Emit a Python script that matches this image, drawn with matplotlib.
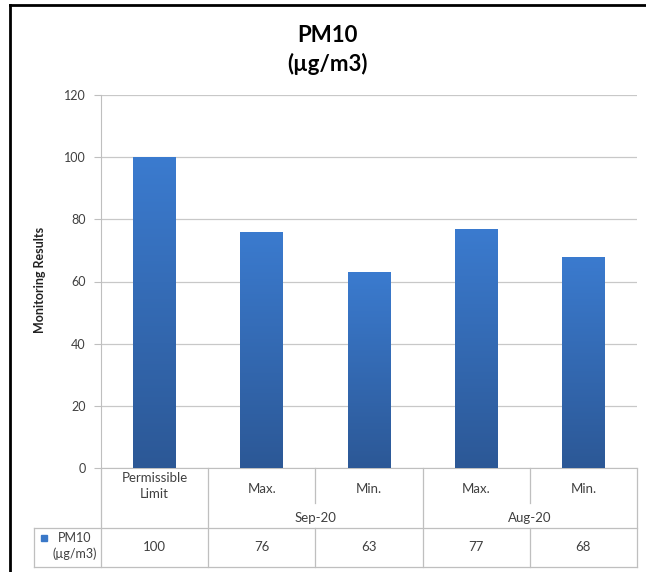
import numpy as np
import matplotlib.pyplot as plt
from matplotlib.lines import Line2D
from matplotlib.colors import LinearSegmentedColormap
from matplotlib.transforms import blended_transform_factory

plt.rcParams['font.family'] = ['Lato', 'DejaVu Sans']

# data
categories = ['Permissible\nLimit', 'Max.', 'Min.', 'Max.', 'Min.']
groups = ['Sep-20', 'Aug-20']
values = [100, 76, 63, 77, 68]
series_name = 'PM10\n(\u00b5g/m3)'

W, H = 646, 572
fig = plt.figure(figsize=(W / 100, H / 100), dpi=100)

def fx(px):
    return px / W

def fy(py):
    return 1 - py / H

ax = fig.add_axes([fx(101), fy(468), fx(637) - fx(101), fy(95) - fy(468)])

cmap = LinearSegmentedColormap.from_list('bar', ['#2C5896', '#3B7BCF'])
grad = np.linspace(0, 1, 256).reshape(-1, 1)
bw = 0.4
x = np.arange(len(values))
bars = ax.bar(x, values, width=bw, color='none', zorder=3)
for b in bars:
    x0 = b.get_x()
    h = b.get_height()
    im = ax.imshow(grad, extent=[x0, x0 + bw, 0, h], origin='lower',
                   aspect='auto', cmap=cmap, zorder=3)
    im.set_clip_path(b)

ax.set_xlim(-0.5, len(values) - 0.5)
ax.set_ylim(0, 120)
ax.set_yticks(range(0, 121, 20))
ax.yaxis.grid(True, color='#C8C8C8', lw=0.9)
ax.set_axisbelow(True)
ax.set_xticks([])
ax.tick_params(axis='y', length=5, color='#BFBFBF', labelsize=9, labelcolor='#404040', pad=6)
for s in ['top', 'right']:
    ax.spines[s].set_visible(False)
ax.spines['left'].set_color('#BFBFBF')
ax.spines['bottom'].set_color('#BFBFBF')

fig.text(fx(40), fy(280), 'Monitoring Results', rotation=90, ha='center', va='center',
         fontsize=9, fontweight='bold', color='#222222')
fig.text(fx(327), fy(36), 'PM10', ha='center', va='center', fontsize=16, fontweight='bold')
fig.text(fx(327), fy(64), '(\u00b5g/m3)', ha='center', va='center', fontsize=16, fontweight='bold')

# data table below the chart
tr = blended_transform_factory(ax.transData, fig.transFigure)
lc = '#BFBFBF'
fs = 9.5

def hline(x0, x1, py):
    fig.add_artist(Line2D([fx(x0), fx(x1)], [fy(py), fy(py)], color=lc, lw=0.9,
                          transform=fig.transFigure))

def vline(xd, py0, py1):
    fig.add_artist(Line2D([xd, xd], [fy(py0), fy(py1)], color=lc, lw=0.9, transform=tr))

hline(34, 637, 528)
hline(34, 637, 567)
fig.add_artist(Line2D([fx(34), fx(34)], [fy(528), fy(567)], color=lc, lw=0.9,
                      transform=fig.transFigure))
for i in range(len(values) + 1):
    xd = i - 0.5
    if i in (2, 4):
        vline(xd, 468, 503)
        vline(xd, 528, 567)
    else:
        vline(xd, 468, 567)

for i, c in enumerate(categories):
    py = 486 if '\n' in c else 489
    fig.text(i, fy(py), c, transform=tr, ha='center', va='center', fontsize=fs,
             color='#404040', linespacing=1.4)
    fig.text(i, fy(547), str(values[i]), transform=tr, ha='center', va='center',
             fontsize=fs, color='#404040')
for g, gi in zip(groups, [1.5, 3.5]):
    fig.text(gi, fy(518), g, transform=tr, ha='center', va='center', fontsize=fs,
             color='#404040')

fig.add_artist(plt.Rectangle((fx(41), fy(541)), fx(6), 6 / H, color='#3A78C8',
                             transform=fig.transFigure))
fig.text(fx(75), fy(546), series_name, ha='center', va='center', fontsize=9,
         color='#404040', linespacing=1.4)

# outer black frame
fig.add_artist(Line2D([fx(10), fx(10)], [0, fy(5)], color='black', lw=2,
                      transform=fig.transFigure))
fig.add_artist(Line2D([fx(10), 1], [fy(5), fy(5)], color='black', lw=2,
                      transform=fig.transFigure))

fig.savefig('out.png', dpi=100)
